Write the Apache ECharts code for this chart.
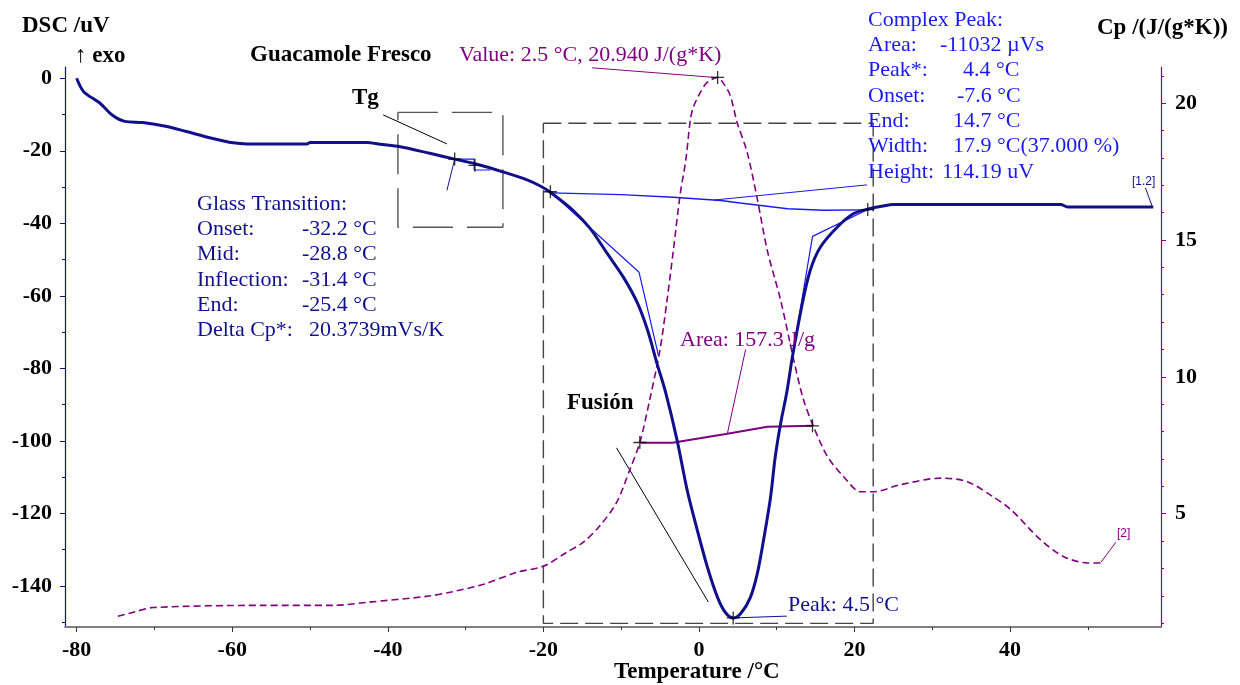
<!DOCTYPE html>
<html><head><meta charset="utf-8">
<script src="https://cdn.jsdelivr.net/npm/echarts@6/dist/echarts.min.js"></script>
<style>html,body{margin:0;padding:0;background:#fff}#c{width:1240px;height:685px}</style>
</head><body><div id="c"></div>
<script>
// ---- DSC curve (°C, uV) ----
const dscTemp = [-80,-79.1,-77,-75.4,-73.8,-71.5,-68.4,-65.9,-62.5,-59.9,-58.1,-50.4,-50,-42.7,-41,-38.4,-34.6,-31.4,-28.2,-25.2,-22.1,-20.4,-19.2,-16.2,-14,-11.8,-9.7,-7.9,-6.6,-5.4,-4.3,-2.8,-1.5,-0.2,1.1,2.4,3.4,4.4,5.4,6.6,7.5,8.3,9.2,9.8,10.5,11.3,12,13.3,14.3,15.6,17.8,19.9,21.7,23.5,25,46.5,47.4,58.4];
const dscValue = [0,-3.7,-6.9,-10.2,-11.9,-12.2,-13.3,-14.7,-16.6,-17.8,-18.1,-18.1,-17.7,-17.7,-18.2,-18.9,-20.7,-22.3,-23.9,-25.8,-28,-29.7,-31.3,-36.4,-41.4,-48.3,-54.9,-62,-69.5,-78.6,-86.5,-99.9,-113.7,-124.7,-134.9,-143.2,-147.3,-148.8,-147.5,-143.2,-136.6,-127.4,-115.6,-104.5,-95.2,-86.5,-77,-62,-53,-46.6,-41,-37.3,-36.1,-35.3,-34.8,-34.8,-35.5,-35.5];
// ---- Cp curve (°C, J/(g*K)) ----
const cpTemp = [-74.7,-72.7,-70.2,-56.4,-47,-42.7,-35,-32,-27.7,-23.4,-20,-17,-14.9,-12.8,-10.6,-8.9,-7.6,-6.3,-5,-4.1,-3.3,-2.4,-1.7,-1.1,-0.7,0.2,1.0,2.4,3.1,4.0,4.9,6.2,7.5,8.8,10.5,12.2,13.4,14.7,16.5,18.6,20.8,22.4,25.9,31.1,34.5,37.9,40.1,43.9,46.9,50,51.7];
const cpValue = [1.25,1.4,1.57,1.65,1.65,1.76,1.98,2.13,2.42,2.86,3.08,3.59,3.95,4.54,5.4,6.6,7.6,9.2,11,12.8,14.6,16.7,17.9,19.4,19.87,20.4,20.74,20.94,20.74,20.3,19.3,18.2,16.5,14.6,12.8,10.6,9.2,8.2,7.1,6.35,5.8,5.8,6.06,6.3,6.17,5.6,5.15,4.05,3.43,3.2,3.2];
// ---- evaluation constructions (DSC axis) ----
const dscBaseline = [[-19.1,-31.6],[-10,-32.1],[-3.3,-32.8],[2.8,-33.7],[5.3,-34.4],[11.4,-36.0],[16,-36.4],[21.7,-36.3]];
const leftTangent = [[-19.1,-31.3],[-7.7,-53.5],[-5.2,-76.5]];
const rightTangent = [[21.7,-36.2],[14.6,-43.6],[12.0,-76.9]];
const heightLeader = [[1.85,-33.6],[21.6,-29.4]];
const peakLeader = [[4.4,-148.8],[11.3,-148.3]];
const tgBox = [[-38.7,-9.4],[-25.2,-9.4],[-25.2,-41.1],[-38.7,-41.1],[-38.7,-9.4]];
const peakBox = [[-20,-12.4],[22.4,-12.4],[22.4,-150.3],[-20,-150.3],[-20,-12.4]];
const tgStep = [[-31.4,-22.3],[-28.9,-22.3],[-28.9,-25.3],[-26.8,-25.3]];
const tgInflection = [[-31.4,-22.3],[-32.4,-30.9]];
const tgLeader = [[-40.6,-10.1],[-32.4,-18.1]];
const fusionLeader = [[-10.6,-101.9],[1.2,-144.4]];
const runLeader = [[57.4,-30.2],[58.3,-35.5]];
const dscMarks = [[-19.1,-31.3],[21.7,-36.2],[4.4,-148.8],[-31.4,-22.3],[-28.8,-24.0]];
// ---- evaluation constructions (Cp axis) ----
const areaBaseline = [[-7.5,7.59],[-3.4,7.59],[3.65,7.92],[8.8,8.18],[14.6,8.21]];
const areaLeader = [[3.65,7.92],[6.0,11.0]];
const valueLeader = [[-13.75,21.29],[2.4,20.93]];
const cpRunLeader = [[53.6,3.96],[51.7,3.23]];
const cpMarks = [[2.4,20.94],[-7.6,7.6],[14.6,8.21]];
// ---- axes ----
const xMajor = [-80,-60,-40,-20,0,20,40];
const xMinor = [-70,-50,-30,-10,10,30,50];
const dscMajor = [-140,-120,-100,-80,-60,-40,-20,0];
const dscMinor = [-150,-130,-110,-90,-70,-50,-30,-10];
const cpMajor = [5,10,15,20];
const cpMinor = [1,2,3,4,6,7,8,9,11,12,13,14,16,17,18,19,21];

const SERIF = '"Liberation Serif","Times New Roman",serif';
const NAVY = '#10108c', BLUE = '#1a1aee', PURPLE = '#800080';

function pairs(t, v){ return t.map((x,i)=>[x, v[i]]); }
function seg(data, color, width, yIdx, dash, z){
  return {type:'line', data, yAxisIndex:yIdx||0, showSymbol:false, symbol:'none', silent:true, z:z||2,
    lineStyle:{color, width, type: dash||'solid'}};
}
const labelStyle = {color:'#000', fontFamily:SERIF, fontWeight:'bold', fontSize:22};
const texts = [];
function txt(x, y, s, fill, font){
  texts.push({type:'text', x, y, silent:true, z:100,
    style:{text:s, fill:fill||'#000', font:font||('22px '+SERIF), textVerticalAlign:'middle', textAlign:'left'}});
}
const B = 'bold 23px '+SERIF;
txt(22,26,'DSC /uV','#000',B);
txt(75,56,'↑ exo','#000',B);
txt(250,55,'Guacamole Fresco','#000',B);
txt(352,98,'Tg','#000',B);
txt(459,55,'Value: 2.5 °C, 20.940 J/(g*K)',PURPLE);
txt(1097,28,'Cp /(J/(g*K))','#000',B);
const cpLab = ['Complex Peak:','Area:','Peak*:','Onset:','End:','Width:','Height:'];
const cpVal = ['','-11032 µVs','4.4 °C','-7.6 °C','14.7 °C','17.9 °C(37.000 %)','114.19 uV'];
const cpValX = [0,940,963,957,953,953,942];
const cpY = [20,45,70,96,121,146,172];
cpLab.forEach((s,i)=>{ txt(868,cpY[i],s,BLUE); if(cpVal[i]) txt(cpValX[i],cpY[i],cpVal[i],BLUE); });
const gtLab = ['Glass Transition:','Onset:','Mid:','Inflection:','End:','Delta Cp*:'];
const gtVal = ['','-32.2 °C','-28.8 °C','-31.4 °C','-25.4 °C','20.3739mVs/K'];
const gtValX = [0,302,302,302,302,309];
const gtY = [204,229,254.5,280,305,330];
gtLab.forEach((s,i)=>{ txt(197,gtY[i],s,NAVY); if(gtVal[i]) txt(gtValX[i],gtY[i],gtVal[i],NAVY); });
txt(567,403,'Fusión','#000',B);
txt(680,340,'Area: 157.3 J/g',PURPLE);
txt(788,605,'Peak: 4.5 °C',NAVY);
txt(614,672,'Temperature /°C','#000',B);
txt(1132,182,'[1.2]',NAVY,'12px "Liberation Sans",Arial,sans-serif');
txt(1117,534,'[2]',PURPLE,'12px "Liberation Sans",Arial,sans-serif');

const XMIN=-81.5, XMAX=59.4, DMIN=-151.3, DMAX=3.1, CMIN=0.86, CMAX=21.32;
const crossSym = 'path://M0,10L20,10M10,0L10,20';

const chart = echarts.init(document.getElementById('c'), null, {renderer:'canvas'});
chart.setOption({
  animation:false,
  backgroundColor:'#fff',
  grid:{left:65, right:79, top:67, bottom:58, containLabel:false},
  xAxis:[
    {type:'value', min:XMIN, max:XMAX, position:'bottom',
     axisLine:{onZero:false, lineStyle:{color:'#808080', width:2}},
     axisTick:{customValues:xMajor, length:5, lineStyle:{color:'#333', width:1}},
     axisLabel:Object.assign({customValues:xMajor, margin:12}, labelStyle),
     splitLine:{show:false}},
    {type:'value', min:XMIN, max:XMAX, position:'bottom',
     axisLine:{show:false, onZero:false},
     axisTick:{customValues:xMinor, length:3, lineStyle:{color:'#333', width:1}},
     axisLabel:{show:false}, splitLine:{show:false}}
  ],
  yAxis:[
    {type:'value', min:DMIN, max:DMAX, position:'left',
     axisLine:{show:true, onZero:false, lineStyle:{color:NAVY, width:1.2}},
     axisTick:{show:true, customValues:dscMajor, length:5, lineStyle:{color:NAVY}},
     axisLabel:Object.assign({customValues:dscMajor, margin:13}, labelStyle),
     splitLine:{show:false}},
    {type:'value', min:CMIN, max:CMAX, position:'right',
     axisLine:{show:true, onZero:false, lineStyle:{color:PURPLE, width:1.2}},
     axisTick:{show:true, customValues:cpMajor, length:5, lineStyle:{color:PURPLE}},
     axisLabel:Object.assign({customValues:cpMajor, margin:14}, labelStyle),
     splitLine:{show:false}},
    {type:'value', min:DMIN, max:DMAX, position:'left',
     axisLine:{show:false, onZero:false},
     axisTick:{show:true, customValues:dscMinor, length:3, lineStyle:{color:NAVY}},
     axisLabel:{show:false}, splitLine:{show:false}},
    {type:'value', min:CMIN, max:CMAX, position:'right',
     axisLine:{show:false, onZero:false},
     axisTick:{show:true, customValues:cpMinor, length:3, lineStyle:{color:PURPLE}},
     axisLabel:{show:false}, splitLine:{show:false}}
  ],
  graphic:texts,
  series:[
    Object.assign(seg(pairs(cpTemp,cpValue), PURPLE, 1.6, 1, [7,4], 3), {smooth:0.3}),
    seg(peakBox, '#444', 1.4, 0, [18,7], 2),
    seg(tgBox, '#555', 1.4, 0, [40,14], 2),
    seg(dscBaseline, BLUE, 1.4, 0),
    seg(leftTangent, BLUE, 1.2, 0),
    seg(rightTangent, BLUE, 1.2, 0),
    seg(heightLeader, BLUE, 1, 0),
    seg(peakLeader, NAVY, 1, 0),
    seg(tgStep, BLUE, 1.2, 0),
    seg(tgInflection, NAVY, 1, 0),
    seg(tgLeader, '#000', 1, 0),
    seg(fusionLeader, '#000', 1, 0),
    seg(runLeader, NAVY, 1, 0),
    seg(areaBaseline, PURPLE, 2, 1, 'solid', 4),
    seg(areaLeader, PURPLE, 1, 1),
    seg(valueLeader, PURPLE, 1, 1),
    seg(cpRunLeader, PURPLE, 1, 1),
    Object.assign(seg(pairs(dscTemp,dscValue), NAVY, 3, 0, 'solid', 5), {smooth:0.3}),
    {type:'scatter', yAxisIndex:0, data:dscMarks, symbol:crossSym, symbolSize:13, silent:true, z:6,
     itemStyle:{color:'rgba(0,0,0,0)', borderColor:'#000', borderWidth:1.3}},
    {type:'scatter', yAxisIndex:1, data:cpMarks, symbol:crossSym, symbolSize:13, silent:true, z:6,
     itemStyle:{color:'rgba(0,0,0,0)', borderColor:'#000', borderWidth:1.3}}
  ]
});
</script>
</body></html>
